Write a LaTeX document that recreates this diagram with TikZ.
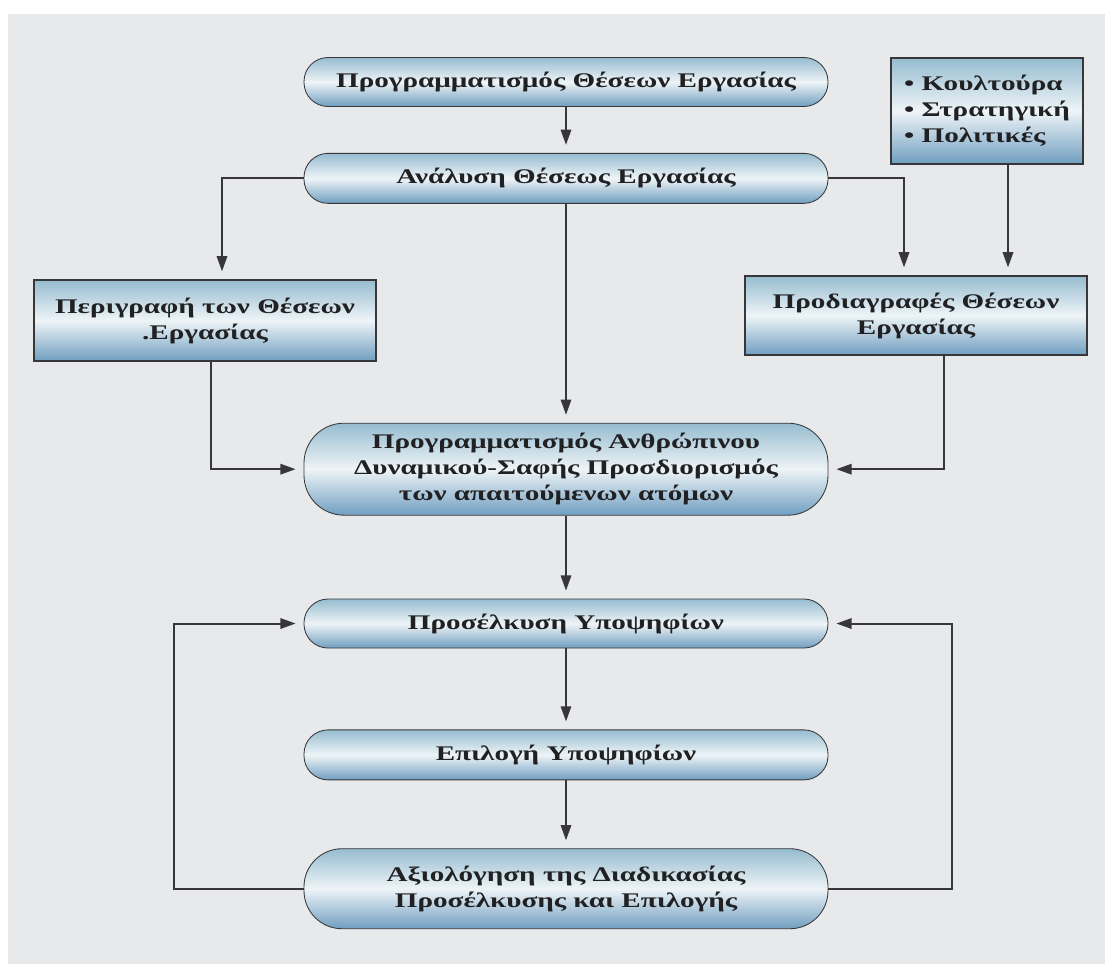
\documentclass[tikz,border=0pt]{standalone}
\usepackage{fontspec}
\setmainfont{Liberation Serif}[FakeStretch=1.4]
\usepackage{xcolor}
\usetikzlibrary{positioning, arrows.meta, calc}

\definecolor{pagegrey}{RGB}{232,233,235}
\definecolor{shadetop}{RGB}{150,188,208}
\definecolor{shademid}{RGB}{238,244,247}
\definecolor{shadebot}{RGB}{112,158,192}
\definecolor{inkgrey}{RGB}{55,55,58}

\begin{document}
\begin{tikzpicture}[
    node distance=1cm,
    every node/.style={font=\bfseries\fontsize{14.8}{18.5}\selectfont, text=inkgrey!60!black},
    stage/.style={draw=inkgrey, line width=0.6pt, rounded corners=0.6cm,
                  minimum width=13.1cm, minimum height=1.225cm, align=center,
                  top color=shadetop, bottom color=shadebot, middle color=shademid},
    panel/.style={draw=inkgrey, line width=0.9pt, align=center,
                  top color=shadetop, bottom color=shadebot, middle color=shademid},
    arrow/.style={-{Triangle[length=3.8mm, width=2.6mm]}, line width=1.4pt,
                  draw=inkgrey, shorten >=0.2cm},
]
\useasboundingbox (0,0) rectangle (27.625,-24.1);
\fill[pagegrey] (0.2,-0.35) rectangle (27.625,-24.1);

% main column
\node[stage] (jobplan) at (14.15,-2.05) {Προγραμματισμός Θέσεων Εργασίας};
\node[stage, minimum height=1.25cm, below=1.15cm of jobplan] (jobanalysis) {Ανάλυση Θέσεως Εργασίας};
\node[stage, minimum height=2.3cm, rounded corners=1cm, below=5.475cm of jobanalysis] (hrplan)
    {Προγραμματισμός Ανθρώπινου\\Δυναμικού-Σαφής Προσδιορισμός\\των απαιτούμενων ατόμων};
\node[stage, below=2.075cm of hrplan] (attract) {Προσέλκυση Υποψηφίων};
\node[stage, minimum height=1.25cm, below=2.025cm of attract] (select) {Επιλογή Υποψηφίων};
\node[stage, minimum height=2cm, rounded corners=0.95cm, below=1.7cm of select] (review)
    {Αξιολόγηση της Διαδικασίας\\Προσέλκυσης και Επιλογής};

% side panels
\node[panel, minimum width=4.8cm, minimum height=2.65cm, align=left] (culture)
    at (24.675,-2.775) {\textbullet~Κουλτούρα\\\textbullet~Στρατηγική\\\textbullet~Πολιτικές};
\node[panel, minimum width=8.55cm, minimum height=2.025cm] (jobdesc) at (5.125,-8.0125)
    {Περιγραφή των Θέσεων\\.Εργασίας};
\node[panel, minimum width=8.55cm, minimum height=1.975cm] (jobspec) at (22.9,-7.8875)
    {Προδιαγραφές Θέσεων\\Εργασίας};

\draw[arrow] (jobplan) -- (jobanalysis);
\draw[arrow] (jobanalysis.west) -| ([xshift=0.425cm]jobdesc.north);
\draw[arrow] (jobanalysis.east) -| ([xshift=-0.3cm]jobspec.north);
\draw[arrow] ([xshift=0.525cm]culture.south) -- ([xshift=0.525cm]culture.south |- jobspec.north);
\draw[arrow] (jobanalysis) -- (hrplan);
\draw[arrow] ([xshift=0.15cm]jobdesc.south) |- (hrplan.west);
\draw[arrow] ([xshift=0.7cm]jobspec.south) |- (hrplan.east);
\draw[arrow] (hrplan) -- (attract);
\draw[arrow] (attract) -- (select);
\draw[arrow] (select) -- (review);

% feedback loops
\draw[arrow] (review.west) -- ++(-3.25,0) |- (attract.west);
\draw[arrow] (review.east) -- ++(3.1,0) |- (attract.east);
\end{tikzpicture}
\end{document}
